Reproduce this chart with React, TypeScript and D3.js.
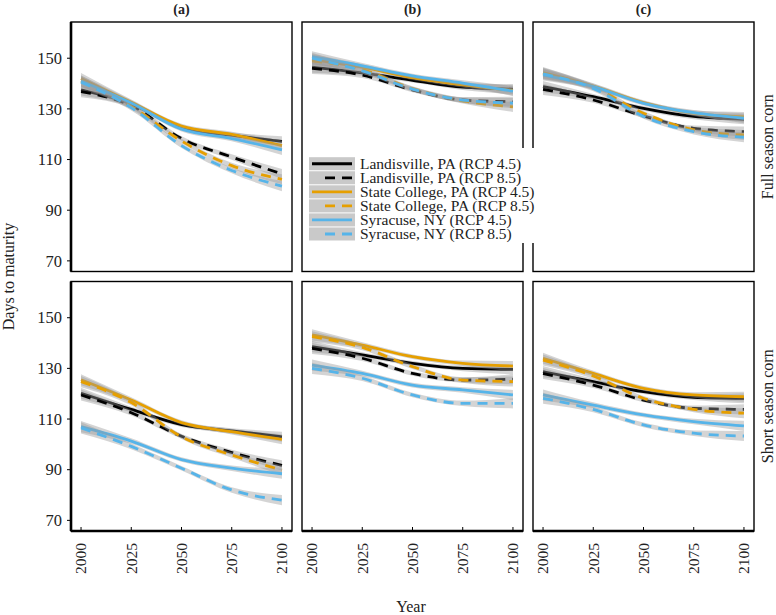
import React from "react";
import * as d3 from "d3";

// ---------- data ----------
const years = [2000, 2025, 2050, 2075, 2100];
const bandHalf = [2.2, 1.1, 0.9, 1.1, 2.0];
const xTicks = [2000, 2025, 2050, 2075, 2100];
const yTicks = [70, 90, 110, 130, 150];
const columnLabels = ["(a)", "(b)", "(c)"];
const rowLabels = ["Full season corn", "Short season corn"];
const seriesLabels = [
  "Landisville, PA (RCP 4.5)",
  "Landisville, PA (RCP 8.5)",
  "State College, PA (RCP 4.5)",
  "State College, PA (RCP 8.5)",
  "Syracuse, NY (RCP 4.5)",
  "Syracuse, NY (RCP 8.5)",
];
const seriesColors = ["#000000", "#000000", "#E69F00", "#E69F00", "#56B4E9", "#56B4E9"];
const seriesDashed = [false, true, false, true, false, true];

// Full season corn
const fullA_LS45 = [137.5, 132, 122.6, 119.6, 117.2];
const fullA_LS85 = [136.8, 131.3, 118.3, 111, 104.3];
const fullA_SC45 = [142, 132.6, 123.2, 119.9, 115.5];
const fullA_SC85 = [141, 131, 117.3, 107.6, 102.2];
const fullA_SY45 = [141, 132.3, 122, 118.3, 113.8];
const fullA_SY85 = [140.5, 130.5, 115.5, 105.7, 99.5];

const fullB_LS45 = [146.5, 144.2, 141.3, 138.6, 137.8];
const fullB_LS85 = [146, 143.3, 137.5, 133.5, 132.8];
const fullB_SC45 = [149.5, 146.5, 142.3, 139.5, 137.3];
const fullB_SC85 = [149, 145.5, 138, 133.2, 130.8];
const fullB_SY45 = [150.6, 147, 143, 140.2, 137];
const fullB_SY85 = [150, 145, 137.8, 133.5, 132.3];

const fullC_LS45 = [138.8, 134.8, 130.2, 127, 125.9];
const fullC_LS85 = [137.7, 133.5, 127.2, 122.3, 121];
const fullC_SC45 = [144.3, 139, 132.5, 128.3, 126.8];
const fullC_SC85 = [144, 138.5, 128.3, 121.7, 119.7];
const fullC_SY45 = [143.4, 138.8, 132.2, 128.5, 126.3];
const fullC_SY85 = [143.8, 138.1, 127, 121, 118.8];

// Short season corn
const shortA_LS45 = [120.2, 113.8, 107.8, 105.3, 103];
const shortA_LS85 = [119.5, 112.5, 103.2, 96.8, 91.7];
const shortA_SC45 = [125.5, 117.5, 108.6, 105, 102];
const shortA_SC85 = [124.8, 116.5, 103, 95.8, 89.8];
const shortA_SY45 = [107, 101.3, 94, 90.6, 88.4];
const shortA_SY85 = [106.5, 99.2, 90.6, 82, 78];

const shortB_LS45 = [138.6, 135.3, 132, 130, 129.6];
const shortB_LS85 = [137.9, 134, 128, 125.4, 125.7];
const shortB_SC45 = [143.2, 139.2, 134.6, 132, 130.9];
const shortB_SC85 = [142.5, 138.3, 130.7, 125.4, 124.8];
const shortB_SY45 = [131.3, 128, 123.4, 121.5, 119.5];
const shortB_SY85 = [130, 126.1, 119.5, 116.2, 116.2];

const shortC_LS45 = [128.7, 124.8, 120.8, 118.6, 118.2];
const shortC_LS85 = [128, 123.4, 117.5, 114.2, 113.8];
const shortC_SC45 = [134, 128, 122.1, 119.5, 118.8];
const shortC_SC85 = [133.3, 127, 118.2, 113.8, 112.3];
const shortC_SY45 = [119.5, 115.5, 111.6, 109, 107.3];
const shortC_SY85 = [118.2, 113.8, 107.7, 104.4, 103.3];

const panelData = [
  [
    [fullA_LS45, fullA_LS85, fullA_SC45, fullA_SC85, fullA_SY45, fullA_SY85],
    [fullB_LS45, fullB_LS85, fullB_SC45, fullB_SC85, fullB_SY45, fullB_SY85],
    [fullC_LS45, fullC_LS85, fullC_SC45, fullC_SC85, fullC_SY45, fullC_SY85],
  ],
  [
    [shortA_LS45, shortA_LS85, shortA_SC45, shortA_SC85, shortA_SY45, shortA_SY85],
    [shortB_LS45, shortB_LS85, shortB_SC45, shortB_SC85, shortB_SY45, shortB_SY85],
    [shortC_LS45, shortC_LS85, shortC_SC45, shortC_SC85, shortC_SY45, shortC_SY85],
  ],
];

// ---------- layout ----------
const W = 776;
const H = 615;
const FONT = "'Liberation Serif', 'Times New Roman', serif";
const panelLeft = 71;
const panelW = 221;
const colGap = 10;
const panelTop = 22;
const panelH = 249.5;
const rowGap = 10;
const DASH = "10,7";

export default function App() {
  const colX = (c: number) => panelLeft + c * (panelW + colGap);
  const rowY = (r: number) => panelTop + r * (panelH + rowGap);

  const panels: React.ReactNode[] = [];
  for (let r = 0; r < 2; r++) {
    for (let c = 0; c < 3; c++) {
      const x0 = colX(c);
      const y0 = rowY(r);
      const x = d3.scaleLinear().domain([1995, 2105]).range([x0, x0 + panelW]);
      const y = d3.scaleLinear().domain([65.8, 164.3]).range([y0 + panelH, y0]);
      const line = d3
        .line<number>()
        .x((_, i) => x(years[i]))
        .y((v) => y(v))
        .curve(d3.curveMonotoneX);
      const area = d3
        .area<number>()
        .x((_, i) => x(years[i]))
        .y0((v, i) => y(v - bandHalf[i]))
        .y1((v, i) => y(v + bandHalf[i]))
        .curve(d3.curveMonotoneX);
      const series = panelData[r][c];
      panels.push(
        <g key={`p${r}${c}`}>
          <rect x={x0} y={y0} width={panelW} height={panelH} fill="white" stroke="#000" strokeWidth={1.4} />
          {series.map((vals, si) => (
            <g key={si}>
              <path d={area(vals) || ""} fill="#999999" fillOpacity={0.42} stroke="none" />
              <path
                d={line(vals) || ""}
                fill="none"
                stroke={seriesColors[si]}
                strokeWidth={2.8}
                strokeDasharray={seriesDashed[si] ? DASH : undefined}
              />
            </g>
          ))}
          {c === 0 && (
            <g>
              <line x1={x0} x2={x0} y1={y0} y2={y0 + panelH} stroke="#000" strokeWidth={2.6} />
              {yTicks.map((t) => (
                <g key={t}>
                  <line x1={x0 - 4} x2={x0} y1={y(t)} y2={y(t)} stroke="#000" strokeWidth={1} />
                  <text x={x0 - 9} y={y(t)} dy="0.35em" textAnchor="end" fontFamily={FONT} fontSize={16.5} fill="#222">
                    {t}
                  </text>
                </g>
              ))}
            </g>
          )}
          {r === 1 && (
            <g>
              <line x1={x0} x2={x0 + panelW} y1={y0 + panelH} y2={y0 + panelH} stroke="#000" strokeWidth={2.6} />
              {xTicks.map((t) => (
                <g key={t}>
                  <line x1={x(t)} x2={x(t)} y1={y0 + panelH - 4} y2={y0 + panelH + 1} stroke="#000" strokeWidth={1} />
                  <text
                    transform={`translate(${x(t)},${y0 + panelH + 12}) rotate(-90)`}
                    dy="0.35em"
                    textAnchor="end"
                    fontFamily={FONT}
                    fontSize={15.5}
                    fill="#222"
                  >
                    {t}
                  </text>
                </g>
              ))}
            </g>
          )}
          {r === 0 && (
            <text x={x0 + panelW / 2} y={14} textAnchor="middle" fontFamily={FONT} fontSize={14} fontWeight="bold" fill="#222">
              {columnLabels[c]}
            </text>
          )}
          {c === 2 && (
            <text
              transform={`translate(${773},${y0 + panelH / 2}) rotate(-90)`}
              textAnchor="middle"
              fontFamily={FONT}
              fontSize={16}
              fill="#222"
            >
              {rowLabels[r]}
            </text>
          )}
        </g>
      );
    }
  }

  // legend
  const legX = 303;
  const legY = 148;
  const keyX = 309;
  const keyW = 46;
  const keyTop = 156.7;
  const rowH = 14.05;

  return (
    <svg width={W} height={H} style={{ position: "absolute", left: 0, top: 0, background: "white" }}>
      <rect x={0} y={0} width={W} height={H} fill="white" />
      {panels}
      <g>
        <rect x={legX} y={legY} width={239} height={95} fill="white" />
        {seriesLabels.map((lab, i) => {
          const cy = keyTop + rowH * (i + 0.5);
          return (
            <g key={lab}>
              <rect x={keyX} y={keyTop + rowH * i + 0.5} width={keyW} height={rowH - 1} fill="#c9c9c9" />
              <line
                x1={seriesDashed[i] ? keyX + 16 : keyX + 3}
                x2={keyX + keyW - 3}
                y1={cy}
                y2={cy}
                stroke={seriesColors[i]}
                strokeWidth={2.8}
                strokeDasharray={seriesDashed[i] ? DASH : undefined}
              />
              <text x={360} y={cy} dy="0.33em" fontFamily={FONT} fontSize={15.5} fill="#222">
                {lab}
              </text>
            </g>
          );
        })}
      </g>
      <text
        transform={`translate(14,${panelTop + panelH + rowGap / 2}) rotate(-90)`}
        textAnchor="middle"
        fontFamily={FONT}
        fontSize={16}
        fill="#222"
      >
        Days to maturity
      </text>
      <text x={411} y={612} textAnchor="middle" fontFamily={FONT} fontSize={16} fill="#222">
        Year
      </text>
    </svg>
  );
}
